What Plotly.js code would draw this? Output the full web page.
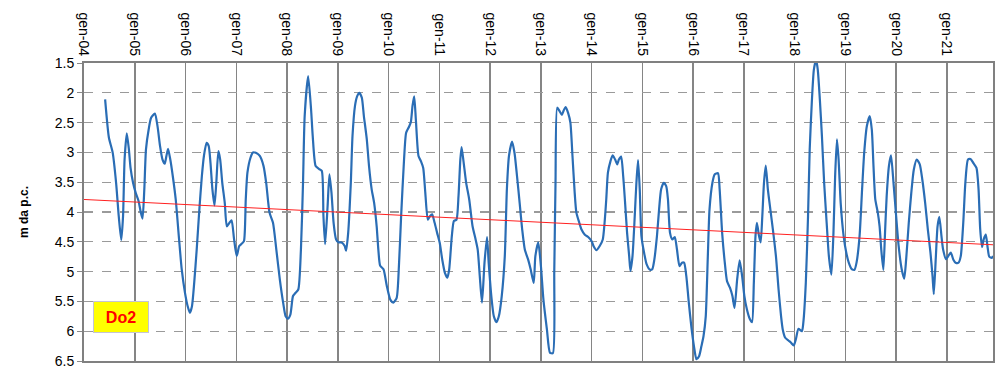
<!DOCTYPE html>
<html>
<head>
<meta charset="utf-8">
<script src="https://cdn.plot.ly/plotly-3.0.1.min.js"></script>
<style>
html,body{margin:0;padding:0;background:#fff;}
#chart{width:1000px;height:375px;}
</style>
</head>
<body>
<div id="chart"></div>
<script>
// Depth to water (m from ground level), well Do2
var dates = [
"2004-06-01","2004-06-28","2004-07-25","2004-08-19","2004-09-07","2004-09-25","2004-10-08","2004-10-19","2004-11-04","2004-11-19",
"2004-12-01","2004-12-19","2005-01-07","2005-01-28","2005-02-13","2005-02-25","2005-03-10","2005-03-22","2005-04-10","2005-04-28",
"2005-05-25","2005-06-13","2005-07-01","2005-07-19","2005-08-04","2005-08-16","2005-08-28","2005-09-13","2005-10-01","2005-10-22",
"2005-11-13","2005-12-04","2005-12-28","2006-01-16","2006-02-01","2006-02-16","2006-03-04","2006-03-22","2006-04-10","2006-04-28",
"2006-05-13","2006-06-01","2006-06-16","2006-06-29","2006-07-13","2006-07-28","2006-08-10","2006-08-25","2006-09-07","2006-09-22",
"2006-10-10","2006-10-25","2006-11-13","2006-11-28","2006-12-16","2007-01-04","2007-01-22","2007-02-10","2007-02-25","2007-03-10",
"2007-03-22","2007-04-13","2007-05-01","2007-05-25","2007-06-19","2007-07-16","2007-08-04","2007-08-28","2007-09-22","2007-10-16",
"2007-11-10","2007-12-04","2007-12-22","2008-01-07","2008-01-25","2008-02-13","2008-03-01","2008-03-22","2008-04-10","2008-04-25",
"2008-05-07","2008-06-01","2008-06-22","2008-07-04","2008-07-25","2008-08-19","2008-09-07","2008-09-19","2008-10-01","2008-10-19",
"2008-11-01","2008-11-16","2008-12-01","2008-12-19","2009-01-07","2009-01-28","2009-02-19","2009-03-01","2009-03-16","2009-04-04",
"2009-04-16","2009-05-04","2009-05-19","2009-06-04","2009-06-22","2009-07-07","2009-07-28","2009-08-13","2009-09-01","2009-09-19",
"2009-10-07","2009-10-19","2009-11-01","2009-11-25","2009-12-19","2010-01-13","2010-02-04","2010-02-28","2010-03-16","2010-04-01",
"2010-04-22","2010-05-07","2010-05-28","2010-06-10","2010-06-22","2010-07-04","2010-07-16","2010-08-04","2010-08-22","2010-09-07",
"2010-09-22","2010-10-10","2010-10-25","2010-11-10","2010-11-28","2010-12-16","2011-01-04","2011-01-22","2011-02-10","2011-02-28",
"2011-03-13","2011-04-01","2011-04-16","2011-05-04","2011-05-19","2011-06-01","2011-06-10","2011-06-25","2011-07-13","2011-08-04",
"2011-08-28","2011-09-19","2011-10-04","2011-10-19","2011-11-04","2011-11-22","2011-12-10","2011-12-22","2012-01-10","2012-01-28",
"2012-02-16","2012-03-04","2012-03-25","2012-04-16","2012-05-01","2012-05-16","2012-06-07","2012-06-25","2012-07-13","2012-08-01",
"2012-08-19","2012-09-07","2012-10-01","2012-10-19","2012-11-10","2012-11-22","2012-12-13","2013-01-01","2013-01-19","2013-02-13",
"2013-03-07","2013-03-28","2013-04-07","2013-04-16","2013-04-28","2013-05-16","2013-06-01","2013-06-13","2013-06-28","2013-07-16",
"2013-08-01","2013-08-16","2013-09-01","2013-09-13","2013-10-04","2013-10-19","2013-11-13","2013-12-07","2014-01-01","2014-01-16",
"2014-02-04","2014-02-28","2014-03-22","2014-04-04","2014-04-16","2014-04-28","2014-05-16","2014-06-01","2014-06-19","2014-07-04",
"2014-07-16","2014-08-01","2014-08-16","2014-08-28","2014-09-13","2014-09-28","2014-10-07","2014-10-22","2014-11-07","2014-11-19",
"2014-12-01","2014-12-13","2014-12-25","2015-01-13","2015-02-01","2015-02-25","2015-03-13","2015-03-28","2015-04-16","2015-05-01",
"2015-05-16","2015-06-04","2015-06-22","2015-07-04","2015-07-19","2015-08-04","2015-08-22","2015-09-07","2015-09-25","2015-10-13",
"2015-10-28","2015-11-13","2015-12-01","2015-12-19","2016-01-07","2016-01-25","2016-02-13","2016-03-01","2016-03-16","2016-04-01",
"2016-04-16","2016-04-28","2016-05-19","2016-06-04","2016-06-28","2016-07-10","2016-07-28","2016-08-16","2016-09-01","2016-09-22",
"2016-10-10","2016-10-25","2016-11-13","2016-12-01","2016-12-19","2017-01-04","2017-01-22","2017-02-13","2017-02-28","2017-03-13",
"2017-03-25","2017-04-04","2017-04-19","2017-05-01","2017-05-13","2017-05-25","2017-06-07","2017-06-22","2017-07-10","2017-07-28",
"2017-08-19","2017-09-07","2017-09-25","2017-10-07","2017-10-25","2017-11-19","2017-12-04","2017-12-25","2018-01-10","2018-01-28",
"2018-02-22","2018-03-04","2018-03-22","2018-04-07","2018-04-19","2018-05-04","2018-05-19","2018-06-04","2018-06-16","2018-07-01",
"2018-07-16","2018-08-01","2018-08-19","2018-09-04","2018-09-22","2018-10-07","2018-10-19","2018-11-01","2018-11-13","2018-11-28",
"2018-12-19","2019-01-07","2019-01-25","2019-02-16","2019-03-07","2019-03-22","2019-04-13","2019-05-01","2019-05-16","2019-06-04",
"2019-06-25","2019-07-10","2019-07-22","2019-08-04","2019-08-22","2019-09-04","2019-09-16","2019-10-01","2019-10-13","2019-10-25",
"2019-11-10","2019-11-25","2019-12-13","2020-01-01","2020-01-19","2020-02-10","2020-02-28","2020-03-13","2020-04-01","2020-04-19",
"2020-05-07","2020-05-28","2020-06-19","2020-07-07","2020-07-28","2020-08-16","2020-09-04","2020-09-19","2020-09-28","2020-10-13",
"2020-10-25","2020-11-07","2020-11-22","2020-12-04","2020-12-25","2021-01-10","2021-01-28","2021-02-16","2021-03-04","2021-03-25",
"2021-04-10","2021-04-28","2021-05-13","2021-06-01","2021-06-19","2021-07-10","2021-08-01","2021-08-16","2021-08-28","2021-09-10",
"2021-09-22","2021-10-07","2021-10-19","2021-11-01","2021-11-19","2021-11-28"
];
var depth = [
2.11,2.75,3.00,3.51,4.07,4.47,4.07,3.12,2.68,2.95,
3.26,3.51,3.68,3.82,4.01,4.11,3.62,2.95,2.62,2.42,
2.35,2.56,2.89,3.12,3.19,3.06,2.94,3.12,3.40,3.79,
4.40,4.96,5.36,5.58,5.69,5.58,5.19,4.63,3.96,3.40,
3.06,2.84,2.89,3.17,3.62,3.89,3.51,2.98,3.12,3.51,
3.85,4.24,4.18,4.14,4.46,4.74,4.57,4.53,4.49,3.79,
3.34,3.09,3.00,3.01,3.06,3.23,3.51,4.01,4.18,4.63,
5.13,5.52,5.75,5.79,5.72,5.41,5.36,5.30,4.63,3.51,
2.39,1.72,2.28,2.73,3.23,3.28,3.31,4.07,4.54,3.90,
3.37,3.68,4.18,4.46,4.51,4.51,4.57,4.65,4.35,3.51,
2.73,2.22,2.06,2.00,2.08,2.39,2.78,3.23,3.62,3.85,
4.24,4.63,4.90,4.96,5.24,5.47,5.52,5.44,4.91,4.07,
3.12,2.67,2.57,2.49,2.22,2.06,2.45,3.06,3.15,3.26,
3.68,4.13,4.07,4.04,4.18,4.35,4.52,4.80,5.02,5.10,
4.96,4.40,4.15,4.13,3.73,3.12,2.91,3.17,3.51,3.79,
4.24,4.46,4.63,5.08,5.52,4.85,4.42,4.85,5.41,5.75,
5.85,5.75,5.41,4.74,3.62,3.06,2.82,3.01,3.40,3.85,
4.29,4.63,4.80,4.96,5.19,4.74,4.51,4.91,5.47,5.97,
6.36,6.37,5.00,3.51,2.25,2.31,2.37,2.30,2.24,2.34,
2.50,3.06,3.68,4.01,4.18,4.29,4.38,4.42,4.49,4.58,
4.64,4.57,4.46,4.18,3.79,3.34,3.15,3.05,3.12,3.20,
3.12,3.07,3.40,3.79,4.35,4.74,4.99,4.74,4.07,3.51,
3.13,3.62,4.40,4.68,4.88,4.97,4.96,4.80,4.40,3.96,
3.62,3.51,3.57,3.79,4.35,4.46,4.42,4.63,4.91,4.85,
4.85,5.07,5.52,5.92,6.25,6.47,6.42,6.25,6.08,5.75,
4.74,3.96,3.51,3.37,3.35,3.62,4.35,4.85,5.16,5.27,
5.41,5.61,5.13,4.81,5.08,5.41,5.63,5.80,5.85,5.19,
4.40,4.18,4.40,4.51,4.07,3.51,3.22,3.62,3.96,4.29,
4.74,5.30,5.75,5.97,6.11,6.16,6.19,6.24,6.13,5.96,
6.00,5.86,5.19,4.07,2.95,2.17,1.61,1.45,1.61,2.11,
2.73,3.51,4.18,4.74,5.05,4.35,3.40,2.78,3.12,3.85,
4.40,4.68,4.85,4.96,4.97,4.85,4.40,3.62,3.01,2.56,
2.39,2.62,3.23,3.79,4.01,4.24,4.63,4.97,4.35,3.73,
3.23,3.05,3.51,4.07,4.57,4.96,5.12,4.80,4.18,3.68,
3.29,3.12,3.20,3.45,3.85,4.29,4.68,5.08,5.38,4.74,
4.24,4.08,4.40,4.63,4.79,4.74,4.68,4.80,4.85,4.85,
4.74,4.18,3.51,3.12,3.11,3.18,3.26,3.62,4.29,4.59,
4.46,4.38,4.57,4.75,4.77,4.74
];
// Linear trend endpoints
var trendDates = ["2004-01-01","2021-11-28"];
var trendValues = [3.79,4.55];

var xTickVals = ["2004-01-01","2005-01-01","2006-01-01","2007-01-01","2008-01-01","2009-01-01","2010-01-01","2011-01-01","2012-01-01",
                 "2013-01-01","2014-01-01","2015-01-01","2016-01-01","2017-01-01","2018-01-01","2019-01-01","2020-01-01","2021-01-01"];
var xTickText = ["gen-04","gen-05","gen-06","gen-07","gen-08","gen-09","gen-10","gen-11","gen-12",
                 "gen-13","gen-14","gen-15","gen-16","gen-17","gen-18","gen-19","gen-20","gen-21"];
var yTickVals = [1.5,2,2.5,3,3.5,4,4.5,5,5.5,6,6.5];
var yTickText = ["1.5","2","2.5","3","3.5","4","4.5","5","5.5","6","6.5"];
var wellName = "Do2";
var yTitle = "m da p.c.";

var traces = [
  {x: dates, y: depth, type: "scatter", mode: "lines",
   line: {color: "#2a6db5", width: 2.2, shape: "spline", smoothing: 0.6},
   hoverinfo: "x+y", showlegend: false},
  {x: trendDates, y: trendValues, type: "scatter", mode: "lines",
   line: {color: "#ff2020", width: 1}, showlegend: false}
];

var layout = {
  width: 1000, height: 375,
  margin: {l: 84, r: 7, t: 63, b: 14},
  paper_bgcolor: "#ffffff", plot_bgcolor: "#ffffff",
  font: {family: "Liberation Sans, Arial, sans-serif", color: "#000000"},
  showlegend: false,
  xaxis: {
    type: "date", side: "top",
    range: ["2004-01-01","2021-11-28"],
    tickmode: "array", tickvals: xTickVals, ticktext: xTickText,
    tickangle: 90, tickfont: {size: 14, color: "#000"},
    showgrid: true, gridcolor: "#858585", gridwidth: 1.3,
    showline: true, mirror: true, linecolor: "#808080", linewidth: 2,
    ticks: "", zeroline: false, fixedrange: true
  },
  yaxis: {
    range: [6.5, 1.5],
    tickmode: "array", tickvals: yTickVals, ticktext: yTickText,
    tickfont: {size: 14, color: "#000"},
    showgrid: true, gridcolor: "#9a9a9a", gridwidth: 1.2, griddash: "dash",
    showline: true, mirror: true, linecolor: "#808080", linewidth: 2,
    ticks: "outside", ticklen: 5, tickcolor: "#8a8a8a", tickwidth: 1,
    zeroline: false, fixedrange: true,
    title: {text: yTitle, font: {size: 12, color: "#000", family: "Liberation Sans, Arial, sans-serif", weight: "bold"}, standoff: 24}
  },
  annotations: [{
    xref: "paper", yref: "paper", x: 0.0103, y: 0.095,
    xanchor: "left", yanchor: "bottom",
    text: "<b>" + wellName + "</b>", showarrow: false,
    font: {size: 16, color: "#ff0000", family: "Liberation Sans, Arial, sans-serif"},
    bgcolor: "#ffff00", bordercolor: "#c4c4d4", borderwidth: 1,
    width: 52, height: 28, align: "center", valign: "middle"
  }]
};

Plotly.newPlot("chart", traces, layout, {displayModeBar: false, staticPlot: true});
</script>
</body>
</html>
